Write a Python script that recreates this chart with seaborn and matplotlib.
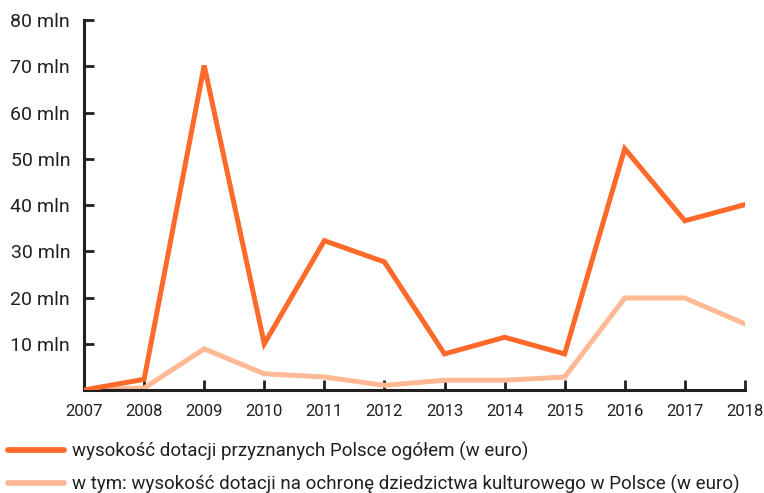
import pandas as pd
import matplotlib.pyplot as plt
import seaborn as sns

# Values (mln euro)
years = [2007, 2008, 2009, 2010, 2011, 2012, 2013, 2014, 2015, 2016, 2017, 2018]
total = [0, 2.3, 70.2, 10.0, 32.3, 27.7, 7.8, 11.4, 7.8, 52.2, 36.6, 40.1]
heritage = [0, 0.4, 8.9, 3.5, 2.8, 1.0, 2.1, 2.1, 2.8, 19.9, 19.9, 14.3]
y_ticks = [10, 20, 30, 40, 50, 60, 70, 80]

label_total = "wysokość dotacji przyznanych Polsce ogółem (w euro)"
label_heritage = "w tym: wysokość dotacji na ochronę dziedzictwa kulturowego w Polsce (w euro)"

df = pd.DataFrame({"year": years, "total": total, "heritage": heritage})

sns.set_style("white")
plt.rcParams["font.family"] = ["Roboto", "DejaVu Sans"]

dark = "#231f20"
fig = plt.figure(figsize=(7.64, 4.93), dpi=100)
ax = fig.add_axes([0.110, 0.209, 0.865, 0.750])

sns.lineplot(data=df, x="year", y="total", color="#ff6a2a", linewidth=3.6,
             label=label_total, ax=ax, solid_joinstyle="miter")
sns.lineplot(data=df, x="year", y="heritage", color="#ffb994", linewidth=3.6,
             label=label_heritage, ax=ax, solid_joinstyle="miter")
# draw the total line on top
ax.lines[0].set_zorder(3)

ax.set_xlim(2007, 2018)
ax.set_ylim(0, 80)
ax.set_xticks(years)
ax.set_yticks(y_ticks)
ax.set_yticklabels([f"{v} mln" for v in y_ticks])
ax.set_xlabel("")
ax.set_ylabel("")

for side in ["top", "right"]:
    ax.spines[side].set_visible(False)
for side in ["left", "bottom"]:
    ax.spines[side].set_color(dark)
    ax.spines[side].set_linewidth(2.2)

ax.tick_params(axis="both", direction="in", length=7, width=2, color=dark,
               labelcolor=dark, bottom=True, left=True)
ax.tick_params(axis="y", labelsize=14, pad=10)
ax.tick_params(axis="x", labelsize=12, pad=10)
ax.grid(False)

ax.legend_.remove()
handles, labels = ax.get_legend_handles_labels()
leg = fig.legend(handles, labels, loc="upper left", bbox_to_anchor=(0.0, 0.12),
                 frameon=False, fontsize=13.5, handlelength=3.0, handletextpad=0.45,
                 labelspacing=0.75, borderaxespad=0.0, labelcolor=dark)
for line in leg.get_lines():
    line.set_linewidth(4.2)
    line.set_solid_capstyle("round")

plt.savefig("out.png", dpi=100)
